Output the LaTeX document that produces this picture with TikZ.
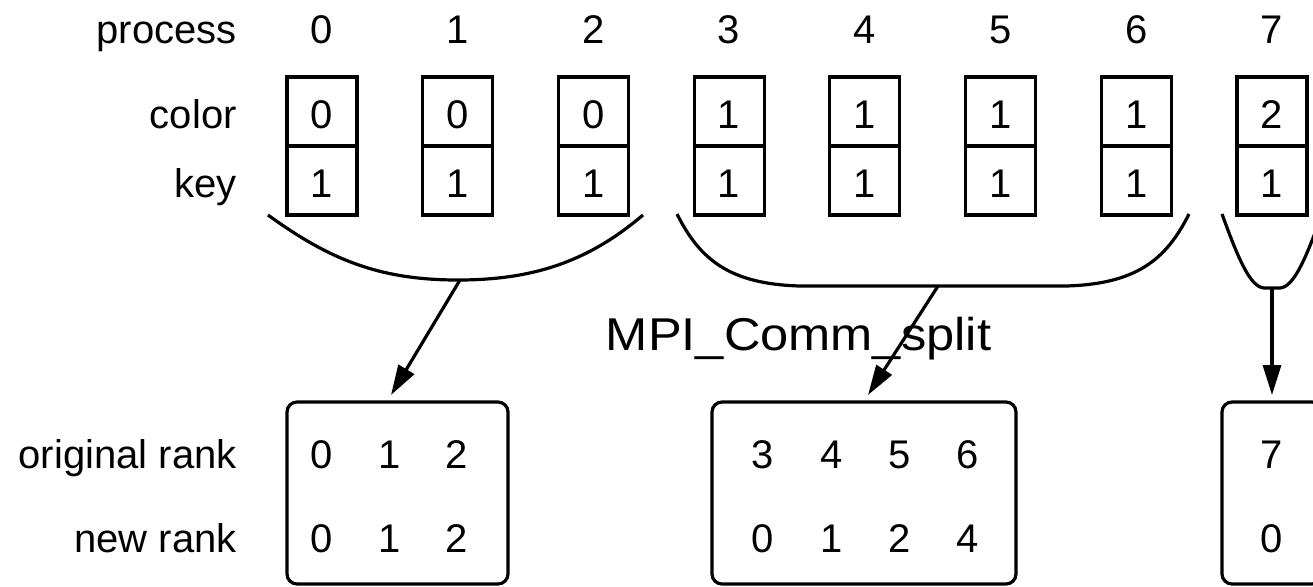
\documentclass[tikz,border=0pt]{standalone}
\usepackage{fontspec}
\setmainfont{Liberation Sans}
\usetikzlibrary{arrows.meta}
\begin{document}
\begin{tikzpicture}[x=0.5pt,y=-0.5pt,
  lw/.style={line width=1.6pt},
  txt/.style={font=\fontsize{20pt}{24pt}\selectfont},
  cell/.style={draw, lw, txt, minimum width=35pt, minimum height=34.5pt, inner sep=0pt, text height=16.5pt, text depth=0pt},
  lbl/.style={anchor=base east, inner sep=0pt, txt},
  num/.style={anchor=base, inner sep=0pt, txt},
  grp/.style={draw, lw, rounded corners=5pt, inner sep=0pt, minimum height=91pt},
  brace/.style={lw},
  arr/.style={lw, -{Triangle[length=15pt,width=9pt]}},
]
\useasboundingbox (0,0) rectangle (1313,586);
\clip (0,0) rectangle (1313,586);

% row labels
\node[lbl] (lp) at (237,43) {process};
\node[lbl] (lc) at (237,128) {color};
\node[lbl] (lk) at (237,197) {key};
\node[lbl] (lo) at (237,468) {original rank};
\node[lbl] (ln) at (237,552) {new rank};

% processes with color/key cells
\foreach \i/\c/\k in {0/0/1,1/0/1,2/0/1,3/1/1,4/1/1,5/1/1,6/1/1,7/2/1} {
  \pgfmathsetmacro\xx{322+135.7*\i}
  \node[num] (p\i) at (\xx,43) {\i};
  \node[cell] (c\i) at (\xx,111.5) {\c};
  \node[cell] (k\i) at (\xx,180.5) {\k};
}

% curves grouping the processes
\coordinate (s1) at (460,280);
\coordinate (s2) at (938,286);
\coordinate (s3) at (1272,288);
\draw[brace] (268,215) .. controls (330,260) and (380,280) .. (458,280)
  .. controls (536,280) and (590,260) .. (643,215);
\draw[brace] (677,214) .. controls (700,260) and (730,284) .. (800,286) -- (1066,286)
  .. controls (1136,284) and (1166,260) .. (1189,214);
\draw[brace] (1222,214) .. controls (1238,258) and (1250,287) .. (1264,288) -- (1280,288)
  .. controls (1294,287) and (1306,258) .. (1322,214);

% label
\node[anchor=base, inner sep=0pt, font=\fontsize{23pt}{28pt}\selectfont] (mpi) at (798.5,350) {\scalebox{1.1}[1]{MPI\_Comm\_split}};

% new communicators
\node[grp, minimum width=110.5pt] (g1) at (397.5,493) {};
\node[grp, minimum width=152pt] (g2) at (864,493) {};
\node[grp, minimum width=50pt] (g3) at (1272,493) {};

\coordinate (e1) at (391,395);
\coordinate (e2) at (868,395);
\coordinate (e3) at (1272,395);
\draw[arr] (s1) -- (e1);
\draw[arr] (s2) -- (e2);
\draw[arr] (s3) -- (e3);

% ranks
\foreach \x/\o/\n [count=\j] in {322/0/0, 389.5/1/1, 457/2/2} {
  \node[num] (ao\j) at (\x,468) {\o};
  \node[num] (an\j) at (\x,552) {\n};
}
\foreach \x/\o/\n [count=\j] in {763/3/0, 832/4/1, 900/5/2, 968/6/4} {
  \node[num] (bo\j) at (\x,468) {\o};
  \node[num] (bn\j) at (\x,552) {\n};
}
\node[num] (co1) at (1272,468) {7};
\node[num] (cn1) at (1272,552) {0};
\end{tikzpicture}
\end{document}
